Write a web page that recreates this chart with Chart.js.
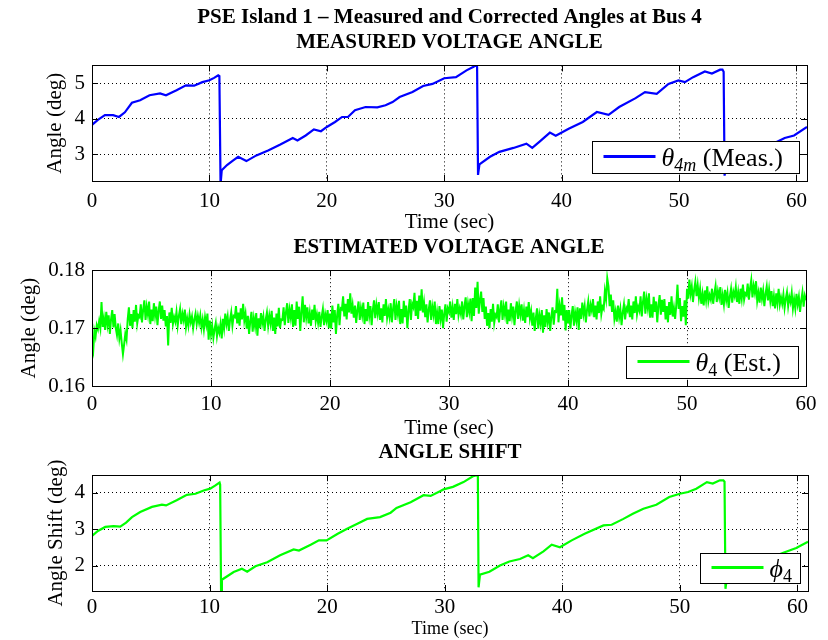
<!DOCTYPE html>
<html>
<head>
<meta charset="utf-8">
<script src="https://cdn.jsdelivr.net/npm/chart.js@4.4.1/dist/chart.umd.min.js"></script>
<style>
  html, body { margin: 0; padding: 0; background: #fff; overflow: hidden; }
  body { width: 828px; height: 640px; position: relative; }
  .panel { position: absolute; left: 0; width: 828px; }
  #p1 { top: 0; height: 235px; }
  #p2 { top: 230px; height: 211px; }
  #p3 { top: 435px; height: 205px; }
</style>
</head>
<body>
<div class="panel" id="p1"><canvas id="measChart"></canvas></div>
<div class="panel" id="p2"><canvas id="estChart"></canvas></div>
<div class="panel" id="p3"><canvas id="shiftChart"></canvas></div>
<script>
// ---- data ----
const timeTicks = [0, 10, 20, 30, 40, 50, 60];

// theta_4m (measured), sec / deg
const measTime = [0, 0.5, 1.1, 1.8, 2.3, 2.8, 3.4, 4.1, 4.9, 5.8, 6.3, 7.2, 8.0, 8.7, 9.4, 10.0, 10.4, 10.75, 10.85, 10.95,
  11.05, 11.5, 12.0, 12.45, 13.15, 14.0, 15.0, 16.0, 17.1, 17.5, 18.2, 18.9, 19.5, 20.0, 20.7, 21.3, 21.8, 22.4, 23.3, 24.3,
  25.0, 25.6, 26.2, 27.3, 28.2, 29.0, 30.0, 31.0, 31.9, 32.5, 32.7, 32.8, 32.88, 33.0, 33.9, 34.7, 35.9, 37.0, 37.5, 38.1,
  39.0, 39.5, 40.6, 41.8, 43.0, 44.0, 44.9, 46.3, 47.1, 48.1, 49.1, 49.95, 50.5, 51.2, 52.2, 52.8, 53.5, 53.7, 53.8, 53.88,
  54.0, 56.0, 58.0, 59.0, 59.8, 60.9];
const measAngle = [3.83, 3.97, 4.10, 4.10, 4.05, 4.18, 4.45, 4.52, 4.66, 4.71, 4.66, 4.80, 4.94, 4.93, 5.03, 5.08, 5.15, 5.22, 5.20, 2.15,
  2.55, 2.70, 2.82, 2.93, 2.81, 2.97, 3.11, 3.27, 3.46, 3.39, 3.53, 3.70, 3.65, 3.77, 3.91, 4.05, 4.05, 4.24, 4.33, 4.32,
  4.38, 4.47, 4.61, 4.75, 4.92, 4.98, 5.14, 5.17, 5.36, 5.46, 5.50, 5.46, 2.42, 2.72, 2.93, 3.07, 3.18, 3.30, 3.18, 3.35,
  3.61, 3.52, 3.72, 3.91, 4.19, 4.11, 4.33, 4.58, 4.75, 4.70, 4.98, 5.08, 5.03, 5.17, 5.33, 5.27, 5.38, 5.38, 5.32, 2.40,
  2.66, 2.95, 3.30, 3.46, 3.53, 3.77];
const measYTicks = [3, 4, 5];

// theta_4 (estimated), one sample every estStep sec (10 per row = 1 s)
const estStep = 0.1;
const estAngle = [
  0.1670, 0.1660, 0.1695, 0.1685, 0.1705, 0.1698, 0.1712, 0.1700, 0.1745, 0.1702,
  0.1717, 0.1697, 0.1728, 0.1706, 0.1722, 0.1690, 0.1715, 0.1731, 0.1701, 0.1724,
  0.1700, 0.1688, 0.1708, 0.1682, 0.1696, 0.1674, 0.1655, 0.1672, 0.1690, 0.1680,
  0.1715, 0.1736, 0.1704, 0.1724, 0.1700, 0.1731, 0.1711, 0.1740, 0.1708, 0.1722,
  0.1719, 0.1741, 0.1710, 0.1732, 0.1748, 0.1714, 0.1737, 0.1723, 0.1746, 0.1707,
  0.1732, 0.1712, 0.1743, 0.1721, 0.1737, 0.1705, 0.1730, 0.1746, 0.1716, 0.1739,
  0.1713, 0.1731, 0.1703, 0.1721, 0.1670, 0.1727, 0.1709, 0.1735, 0.1707, 0.1719,
  0.1711, 0.1728, 0.1704, 0.1721, 0.1733, 0.1707, 0.1725, 0.1714, 0.1732, 0.1702,
  0.1717, 0.1704, 0.1724, 0.1710, 0.1720, 0.1700, 0.1715, 0.1725, 0.1707, 0.1721,
  0.1709, 0.1722, 0.1701, 0.1715, 0.1698, 0.1719, 0.1706, 0.1725, 0.1680, 0.1713,
  0.1689, 0.1704, 0.1683, 0.1698, 0.1709, 0.1686, 0.1701, 0.1692, 0.1707, 0.1682,
  0.1716, 0.1700, 0.1725, 0.1707, 0.1720, 0.1695, 0.1714, 0.1727, 0.1704, 0.1721,
  0.1719, 0.1738, 0.1708, 0.1727, 0.1704, 0.1734, 0.1715, 0.1742, 0.1713, 0.1725,
  0.1699, 0.1721, 0.1690, 0.1712, 0.1728, 0.1694, 0.1717, 0.1703, 0.1726, 0.1687,
  0.1717, 0.1700, 0.1726, 0.1708, 0.1720, 0.1695, 0.1715, 0.1727, 0.1704, 0.1722,
  0.1708, 0.1730, 0.1695, 0.1718, 0.1690, 0.1725, 0.1703, 0.1735, 0.1700, 0.1715,
  0.1714, 0.1736, 0.1705, 0.1727, 0.1743, 0.1709, 0.1732, 0.1718, 0.1741, 0.1702,
  0.1731, 0.1704, 0.1746, 0.1716, 0.1737, 0.1695, 0.1728, 0.1755, 0.1710, 0.1740,
  0.1718, 0.1736, 0.1708, 0.1726, 0.1704, 0.1732, 0.1714, 0.1740, 0.1712, 0.1724,
  0.1709, 0.1728, 0.1702, 0.1720, 0.1733, 0.1705, 0.1724, 0.1713, 0.1731, 0.1700,
  0.1725, 0.1699, 0.1739, 0.1710, 0.1731, 0.1690, 0.1722, 0.1742, 0.1705, 0.1734,
  0.1732, 0.1755, 0.1720, 0.1742, 0.1715, 0.1750, 0.1727, 0.1760, 0.1725, 0.1740,
  0.1718, 0.1739, 0.1709, 0.1731, 0.1746, 0.1714, 0.1735, 0.1722, 0.1744, 0.1707,
  0.1733, 0.1712, 0.1745, 0.1721, 0.1738, 0.1705, 0.1731, 0.1748, 0.1717, 0.1740,
  0.1725, 0.1745, 0.1714, 0.1734, 0.1710, 0.1741, 0.1721, 0.1750, 0.1718, 0.1732,
  0.1719, 0.1743, 0.1710, 0.1733, 0.1750, 0.1714, 0.1738, 0.1724, 0.1747, 0.1707,
  0.1733, 0.1708, 0.1747, 0.1719, 0.1739, 0.1700, 0.1730, 0.1750, 0.1714, 0.1742,
  0.1736, 0.1761, 0.1721, 0.1747, 0.1716, 0.1756, 0.1730, 0.1767, 0.1727, 0.1744,
  0.1719, 0.1741, 0.1710, 0.1732, 0.1748, 0.1714, 0.1737, 0.1723, 0.1746, 0.1707,
  0.1727, 0.1707, 0.1738, 0.1716, 0.1732, 0.1700, 0.1725, 0.1741, 0.1711, 0.1734,
  0.1728, 0.1746, 0.1718, 0.1736, 0.1714, 0.1742, 0.1724, 0.1750, 0.1722, 0.1734,
  0.1724, 0.1746, 0.1715, 0.1737, 0.1753, 0.1719, 0.1742, 0.1728, 0.1751, 0.1712,
  0.1752, 0.1721, 0.1770, 0.1735, 0.1780, 0.1725, 0.1748, 0.1763, 0.1728, 0.1752,
  0.1716, 0.1737, 0.1704, 0.1726, 0.1700, 0.1733, 0.1711, 0.1742, 0.1709, 0.1723,
  0.1719, 0.1741, 0.1710, 0.1732, 0.1748, 0.1714, 0.1737, 0.1723, 0.1746, 0.1707,
  0.1732, 0.1712, 0.1743, 0.1721, 0.1737, 0.1705, 0.1730, 0.1746, 0.1716, 0.1739,
  0.1723, 0.1741, 0.1713, 0.1731, 0.1709, 0.1737, 0.1719, 0.1745, 0.1717, 0.1729,
  0.1704, 0.1727, 0.1695, 0.1718, 0.1734, 0.1699, 0.1722, 0.1708, 0.1731, 0.1692,
  0.1722, 0.1702, 0.1733, 0.1711, 0.1727, 0.1695, 0.1720, 0.1736, 0.1706, 0.1729,
  0.1728, 0.1768, 0.1710, 0.1738, 0.1722, 0.1753, 0.1713, 0.1740, 0.1696, 0.1731,
  0.1708, 0.1731, 0.1699, 0.1722, 0.1738, 0.1704, 0.1727, 0.1713, 0.1736, 0.1697,
  0.1734, 0.1716, 0.1744, 0.1724, 0.1738, 0.1710, 0.1732, 0.1746, 0.1720, 0.1740,
  0.1730, 0.1750, 0.1719, 0.1739, 0.1715, 0.1746, 0.1726, 0.1755, 0.1724, 0.1737,
  0.1733, 0.1764, 0.1750, 0.1786, 0.1772, 0.1738, 0.1758, 0.1728, 0.1748, 0.1716,
  0.1729, 0.1711, 0.1739, 0.1719, 0.1733, 0.1705, 0.1727, 0.1741, 0.1715, 0.1735,
  0.1730, 0.1750, 0.1719, 0.1739, 0.1715, 0.1746, 0.1726, 0.1755, 0.1724, 0.1737,
  0.1730, 0.1755, 0.1720, 0.1745, 0.1763, 0.1725, 0.1750, 0.1735, 0.1760, 0.1718,
  0.1741, 0.1718, 0.1754, 0.1728, 0.1746, 0.1710, 0.1739, 0.1757, 0.1723, 0.1749,
  0.1728, 0.1750, 0.1715, 0.1738, 0.1710, 0.1745, 0.1723, 0.1755, 0.1720, 0.1735,
  0.1716, 0.1740, 0.1775, 0.1733, 0.1752, 0.1712, 0.1738, 0.1720, 0.1748, 0.1705,
  0.1768, 0.1751, 0.1784, 0.1759, 0.1772, 0.1745, 0.1766, 0.1780, 0.1755, 0.1774,
  0.1752, 0.1768, 0.1742, 0.1759, 0.1739, 0.1765, 0.1748, 0.1772, 0.1746, 0.1757,
  0.1749, 0.1768, 0.1742, 0.1760, 0.1773, 0.1745, 0.1764, 0.1753, 0.1771, 0.1740,
  0.1757, 0.1741, 0.1766, 0.1748, 0.1761, 0.1735, 0.1755, 0.1768, 0.1744, 0.1763,
  0.1755, 0.1771, 0.1745, 0.1762, 0.1742, 0.1768, 0.1751, 0.1775, 0.1749, 0.1760,
  0.1757, 0.1777, 0.1749, 0.1769, 0.1783, 0.1753, 0.1773, 0.1761, 0.1781, 0.1747,
  0.1761, 0.1744, 0.1770, 0.1751, 0.1765, 0.1738, 0.1759, 0.1772, 0.1748, 0.1767,
  0.1747, 0.1764, 0.1738, 0.1755, 0.1734, 0.1760, 0.1743, 0.1768, 0.1741, 0.1753,
  0.1742, 0.1758, 0.1735, 0.1751, 0.1762, 0.1738, 0.1754, 0.1745, 0.1761, 0.1734,
  0.1750, 0.1734, 0.1759, 0.1741, 0.1754, 0.1728, 0.1748, 0.1762, 0.1737, 0.1756,
  0.1748];
const estYTicks = [0.16, 0.17, 0.18];

// phi_4 (angle shift), sec / deg
const shiftTime = [0, 0.5, 1.13, 1.84, 2.4, 2.9, 3.4, 4.1, 5.1, 5.95, 6.3, 7.2, 8.07, 8.8, 9.5, 10.05, 10.5, 10.85, 10.9, 10.98,
  11.05, 12.05, 12.75, 13.2, 13.9, 14.9, 16.0, 17.15, 17.6, 18.6, 19.3, 19.95, 20.9, 21.7, 22.7, 23.4, 24.5, 25.4, 25.9, 27.1,
  28.2, 28.8, 29.6, 29.9, 30.7, 31.6, 32.4, 32.76, 32.82, 32.88, 33.0, 33.8, 34.7, 35.5, 36.4, 37.1, 37.5, 38.4, 39.1, 39.8,
  40.8, 41.9, 43.5, 44.2, 45.2, 46.0, 46.9, 48.0, 49.1, 50.0, 50.7, 51.4, 52.3, 52.8, 53.4, 53.7, 53.8, 53.88, 54.0, 56.0,
  58.0, 58.8, 59.9, 60.9];
const shiftAngle = [2.81, 2.95, 3.06, 3.08, 3.07, 3.18, 3.33, 3.47, 3.61, 3.67, 3.65, 3.79, 3.94, 3.97, 4.06, 4.11, 4.20, 4.28, 4.22, 1.20,
  1.61, 1.82, 1.91, 1.83, 1.98, 2.09, 2.28, 2.44, 2.41, 2.57, 2.69, 2.69, 2.87, 3.01, 3.17, 3.28, 3.33, 3.45, 3.58, 3.74,
  3.93, 3.91, 4.04, 4.09, 4.16, 4.29, 4.45, 4.48, 4.44, 1.40, 1.75, 1.83, 2.00, 2.11, 2.18, 2.28, 2.20, 2.39, 2.57, 2.50,
  2.69, 2.87, 3.10, 3.12, 3.28, 3.42, 3.56, 3.67, 3.88, 3.97, 4.02, 4.11, 4.29, 4.25, 4.34, 4.34, 4.30, 1.36, 1.65, 1.95,
  2.25, 2.35, 2.48, 2.65];
const shiftYTicks = [2, 3, 4];

// ---- shared look ----
const SERIF = 'Liberation Serif';

// MATLAB-style box with inward ticks
const frame = {
  id: 'frame',
  afterDatasetsDraw(chart) {
    const { ctx, chartArea: a, scales: { x, y } } = chart;
    ctx.save();
    ctx.strokeStyle = '#000';
    ctx.lineWidth = 1;
    ctx.beginPath();
    x.ticks.forEach(t => {
      const px = Math.round(x.getPixelForValue(t.value)) + 0.5;
      ctx.moveTo(px, a.top); ctx.lineTo(px, a.top + 6);
      ctx.moveTo(px, a.bottom); ctx.lineTo(px, a.bottom - 6);
    });
    y.ticks.forEach(t => {
      const py = Math.round(y.getPixelForValue(t.value)) + 0.5;
      ctx.moveTo(a.left, py); ctx.lineTo(a.left + 6, py);
      ctx.moveTo(a.right, py); ctx.lineTo(a.right - 6, py);
    });
    ctx.stroke();
    ctx.strokeRect(Math.round(a.left) + 0.5, Math.round(a.top) + 0.5, Math.round(a.width), Math.round(a.height));
    ctx.restore();
  }
};

// boxed legend in the lower right corner of the axes
function insetLegend(parts, boxH, padRight) {
  return {
    id: 'insetLegend',
    afterDraw(chart) {
      const { ctx, chartArea: a } = chart;
      const ds = chart.data.datasets[0];
      ctx.save();
      let tw = 0;
      const widths = parts.map(p => { ctx.font = p.font; const w = ctx.measureText(p.text).width; tw += w; return w; });
      const w = 11 + 52 + 6 + tw + padRight;
      const right = Math.round(a.right - 8) + 0.5;
      const bottom = Math.round(a.bottom - 8) + 0.5;
      const left = right - Math.round(w), top = bottom - boxH;
      ctx.fillStyle = '#fff';
      ctx.fillRect(left, top, right - left, boxH);
      ctx.strokeStyle = '#000';
      ctx.lineWidth = 1;
      ctx.strokeRect(left, top, right - left, boxH);
      const mid = top + boxH / 2;
      ctx.strokeStyle = ds.borderColor;
      ctx.lineWidth = 3;
      ctx.beginPath();
      ctx.moveTo(left + 11, mid - 1);
      ctx.lineTo(left + 63, mid - 1);
      ctx.stroke();
      ctx.fillStyle = '#000';
      ctx.textBaseline = 'alphabetic';
      let tx = left + 69;
      parts.forEach((p, i) => {
        ctx.font = p.font;
        ctx.fillText(p.text, tx, mid + 8 + (p.dy || 0));
        tx += widths[i];
      });
      ctx.restore();
    }
  };
}

function makeOptions(o) {
  return {
    responsive: true,
    maintainAspectRatio: false,
    animation: false,
    events: [],
    layout: { padding: { left: o.padLeft, right: o.padRight, top: 0, bottom: 0 } },
    plugins: {
      legend: { display: false },
      tooltip: { enabled: false },
      title: {
        display: true,
        fullSize: false,
        text: o.title,
        color: '#000',
        font: { family: SERIF, size: 21, weight: 'bold' },
        padding: { top: 5, bottom: 10 }
      }
    },
    scales: {
      x: {
        type: 'linear',
        min: 0,
        max: o.xMax,
        afterBuildTicks: s => { s.ticks = timeTicks.map(v => ({ value: v })); },
        afterFit: s => { s.height = o.xHeight; },
        ticks: { color: '#000', padding: o.xTickPad, font: { family: SERIF, size: 21 }, callback: v => String(v) },
        grid: { color: '#000', lineWidth: 1, drawTicks: false },
        border: { display: false, dash: [1, 3] },
        title: { display: true, text: 'Time (sec)', color: '#000', padding: 0, font: { family: SERIF, size: o.xTitleSize } }
      },
      y: {
        min: o.yMin,
        max: o.yMax,
        afterBuildTicks: s => { s.ticks = o.yTicks.map(v => ({ value: v })); },
        afterFit: s => { s.width = o.yWidth; },
        ticks: { color: '#000', padding: 7, font: { family: SERIF, size: 21 }, callback: o.yFmt },
        grid: { color: '#000', lineWidth: 1, drawTicks: false },
        border: { display: false, dash: [1, 3] },
        title: { display: true, text: o.yTitle, color: '#000', padding: 0, font: { family: SERIF, size: 21 } }
      }
    }
  };
}

new Chart(document.getElementById('measChart'), {
  type: 'line',
  data: {
    datasets: [{
      label: 'θ4m (Meas.)',
      data: measTime.map((t, i) => ({ x: t, y: measAngle[i] })),
      borderColor: '#0000ff',
      borderWidth: 2.2,
      pointRadius: 0,
      tension: 0
    }]
  },
  options: makeOptions({
    title: ['PSE Island 1 – Measured and Corrected Angles at Bus 4', 'MEASURED VOLTAGE ANGLE'],
    padLeft: 43, padRight: 21, yWidth: 49, xHeight: 54, xMax: 60.9, xTitleSize: 21, xTickPad: 8,
    yMin: 2.25, yMax: 5.5, yTicks: measYTicks, yTitle: 'Angle (deg)', yFmt: v => String(v)
  }),
  plugins: [frame, insetLegend([
    { text: 'θ', font: 'italic 26px ' + SERIF },
    { text: '4m', font: 'italic 18px ' + SERIF, dy: 5 },
    { text: ' (Meas.)', font: '26px ' + SERIF }
  ], 32, 17)]
});

new Chart(document.getElementById('estChart'), {
  type: 'line',
  data: {
    datasets: [{
      label: 'θ4 (Est.)',
      data: estAngle.map((v, i) => ({ x: i * estStep, y: v })),
      borderColor: '#00ff00',
      borderWidth: 2,
      pointRadius: 0,
      tension: 0
    }]
  },
  options: makeOptions({
    title: 'ESTIMATED VOLTAGE ANGLE',
    padLeft: 17, padRight: 22, yWidth: 75, xHeight: 55, xMax: 60, xTitleSize: 21, xTickPad: 6,
    yMin: 0.16, yMax: 0.18, yTicks: estYTicks, yTitle: 'Angle (deg)', yFmt: v => v.toFixed(2)
  }),
  plugins: [frame, insetLegend([
    { text: 'θ', font: 'italic 26px ' + SERIF },
    { text: '4', font: '18px ' + SERIF, dy: 5 },
    { text: ' (Est.)', font: '26px ' + SERIF }
  ], 32, 18)]
});

new Chart(document.getElementById('shiftChart'), {
  type: 'line',
  data: {
    datasets: [{
      label: 'ϕ4',
      data: shiftTime.map((t, i) => ({ x: t, y: shiftAngle[i] })),
      borderColor: '#00ff00',
      borderWidth: 2.2,
      pointRadius: 0,
      tension: 0
    }]
  },
  options: makeOptions({
    title: 'ANGLE SHIFT',
    padLeft: 44, padRight: 20, yWidth: 48, xHeight: 49, xMax: 60.9, xTitleSize: 18, xTickPad: 4,
    yMin: 1.3, yMax: 4.48, yTicks: shiftYTicks, yTitle: 'Angle Shift (deg)', yFmt: v => String(v)
  }),
  plugins: [frame, insetLegend([
    { text: 'ϕ', font: 'italic 26px ' + SERIF },
    { text: '4', font: '18px ' + SERIF, dy: 5 }
  ], 30, 9)]
});
</script>
</body>
</html>
